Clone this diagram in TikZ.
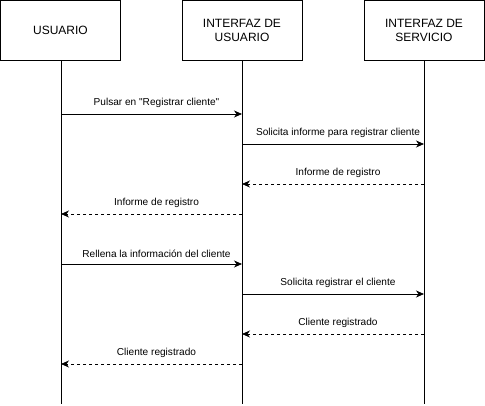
\documentclass[tikz,border=0pt]{standalone}
\usepackage{fontspec}
\setmainfont{Liberation Sans}
\usetikzlibrary{arrows.meta}
\begin{document}
\begin{tikzpicture}[x=1pt,y=-1pt,
  actor/.style={draw,line width=0.8pt,minimum width=120pt,minimum height=60pt,align=center,font=\fontsize{12}{14}\selectfont,inner sep=0pt},
  life/.style={line width=0.8pt},
  msg/.style={line width=0.8pt,-{Stealth[length=8pt,width=7pt,inset=2.5pt]}},
  ret/.style={msg,dash pattern=on 3pt off 3pt},
  lbl/.style={font=\fontsize{10.1}{12}\selectfont,inner sep=0pt,midway,above=6.5pt,xshift=5pt}]
\useasboundingbox (0,0) rectangle (485,406);
\node[actor] (a) at (60.5,30.5) {USUARIO};
\node[actor] (b) at (242,30.5) {INTERFAZ DE\\USUARIO};
\node[actor] (c) at (424,30.5) {INTERFAZ DE\\SERVICIO};
\coordinate (ae) at (61,404);
\coordinate (be) at (242,404);
\coordinate (ce) at (424,404);
\draw[life] (a.south -| ae) -- (ae);
\draw[life] (b.south -| be) -- (be);
\draw[life] (c.south -| ce) -- (ce);
% message coordinates
\foreach \y [count=\i] in {114,144,184,214,264,294,334,364}{
  \coordinate (a\i) at (61,\y);
  \coordinate (b\i) at (242,\y);
  \coordinate (c\i) at (424,\y);
}
\draw[msg] (a1) -- (b1) node[lbl] {Pulsar en \textquotedbl Registrar cliente\textquotedbl};
\draw[msg] (b2) -- (c2) node[lbl] {Solicita informe para registrar cliente};
\draw[ret] (c3) -- (b3) node[lbl] {Informe de registro};
\draw[ret] (b4) -- (a4) node[lbl] {Informe de registro};
\draw[msg] (a5) -- (b5) node[lbl] {Rellena la información del cliente};
\draw[msg] (b6) -- (c6) node[lbl] {Solicita registrar el cliente};
\draw[ret] (c7) -- (b7) node[lbl] {Cliente registrado};
\draw[ret] (b8) -- (a8) node[lbl] {Cliente registrado};
\end{tikzpicture}
\end{document}
